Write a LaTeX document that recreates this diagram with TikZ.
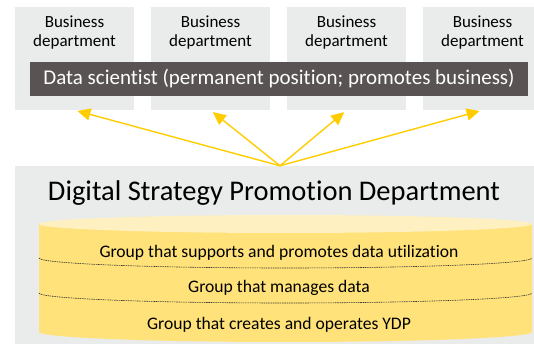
\documentclass[tikz,border=0pt]{standalone}
\usepackage{fontspec}
\setmainfont{Carlito}[Ligatures=NoCommon]
\usetikzlibrary{arrows.meta}
\definecolor{deptgray}{HTML}{EAEBEB}
\definecolor{bardark}{HTML}{595354}
\definecolor{cylbody}{HTML}{FFE27A}
\definecolor{cyltop}{HTML}{FFF0C2}
\definecolor{linkyellow}{HTML}{FFCC00}
\tikzstyle{dept}=[fill=deptgray, minimum width=119pt, minimum height=103pt, inner sep=0pt]
\tikzstyle{deptlabel}=[anchor=north, yshift=-5pt, align=center, font=\fontsize{17}{19.5}\selectfont]
\tikzstyle{scientist}=[fill=bardark, text=white, minimum width=498pt, minimum height=34pt, font=\fontsize{21}{25}\selectfont]
\tikzstyle{org}=[fill=deptgray, minimum width=530pt, minimum height=190pt, inner sep=0pt]
\tikzstyle{group}=[font=\fontsize{17.6}{20}\selectfont]
\tikzstyle{sep}=[draw=black!80, line width=0.6pt, dash pattern=on 1.5pt off 0.8pt]
\tikzstyle{link}=[draw=linkyellow, line width=1.4pt, -{Triangle[length=13pt,width=12pt]}, shorten >=3pt]

\begin{document}
\begin{tikzpicture}[x=1pt, y=1pt]
    \useasboundingbox (0,0) rectangle (534,344);
    \clip (0,0) rectangle (534,344);

    % business departments on top
    \foreach \pos/\name in {{(74.5,285.5)/bd1}, {(210.5,285.5)/bd2},
                            {(346.5,285.5)/bd3}, {(482.5,285.5)/bd4}}
        \node[dept, label={[deptlabel]north:Business\\department}] (\name) at \pos {};

    \node[scientist] (ds) at (279,265) {Data scientist (permanent position; promotes business)};

    % the department below
    \node[org] (org) at (280,83) {};
    \node[font=\fontsize{28.5}{32}\selectfont] (title) at (274,151) {Digital Strategy Promotion Department};

    % cylinder with the three groups
    \fill[cylbody] (39,120) -- (39,12) arc[start angle=180, end angle=360, x radius=246.5, y radius=10] -- (532,120) -- cycle;
    \fill[cyltop] (285.5,120) ellipse[x radius=246.5, y radius=9];
    \draw[sep] (39,86) arc[start angle=180, end angle=360, x radius=246.5, y radius=10];
    \draw[sep] (39,51) arc[start angle=180, end angle=360, x radius=246.5, y radius=10];

    \node[group] (g1) at (279,91) {Group that supports and promotes data utilization};
    \node[group] (g2) at (279,56) {Group that manages data};
    \node[group] (g3) at (279,19) {Group that creates and operates YDP};

    % arrows up to every department
    \foreach \dest in {bd1, bd2, bd3, bd4}
        \path[link] (org.north) -- (\dest.south);
\end{tikzpicture}
\end{document}
